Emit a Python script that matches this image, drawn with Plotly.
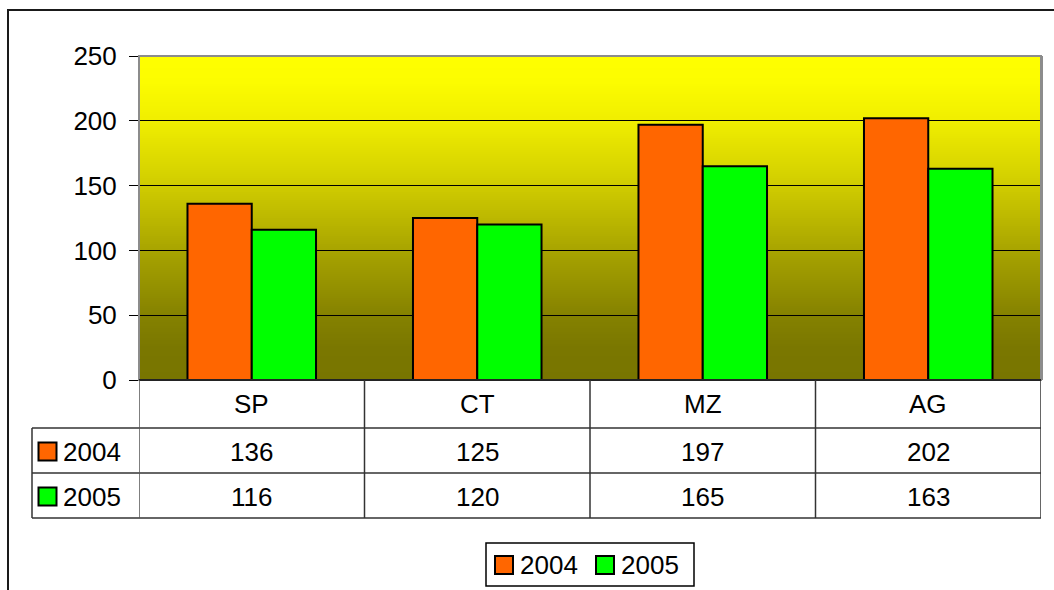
import plotly.graph_objects as go

# ---- data ----
categories = ["SP", "CT", "MZ", "AG"]
series_names = ["2004", "2005"]
values_2004 = [136, 125, 197, 202]
values_2005 = [116, 120, 165, 163]
series_colors = ["#FF6600", "#00FF00"]
y_ticks = [0, 50, 100, 150, 200, 250]

series_values = [values_2004, values_2005]

W, H = 1054, 590
L, R, T, B = 139, 1041, 56, 380  # plot area in pixels
FONT = "Liberation Sans, Arial, sans-serif"
FS = 26


def px(x):
    return (x - L) / (R - L)


def py(y):
    return (B - y) / (B - T)


x_pos = list(range(len(categories)))
x_lo, x_hi = -0.5, len(categories) - 0.5
y_lo, y_hi = y_ticks[0], y_ticks[-1]

# background gradient stops (fraction of height from bottom, rgb)
grad_stops = [(0.0, (0x78, 0x75, 0x00)), (0.1, (0x7a, 0x77, 0x00)), (0.2, (0x85, 0x82, 0x00)),
              (0.4, (0xa8, 0xa4, 0x00)), (0.6, (0xd0, 0xcc, 0x00)), (0.8, (0xf0, 0xee, 0x00)),
              (0.92, (0xfc, 0xfc, 0x00)), (1.0, (0xff, 0xff, 0x00))]


def grad_color(f):
    for (f0, c0), (f1, c1) in zip(grad_stops[:-1], grad_stops[1:]):
        if f0 <= f <= f1:
            t = (f - f0) / (f1 - f0) if f1 > f0 else 0
            return "rgb(%d,%d,%d)" % tuple(round(a + (b - a) * t) for a, b in zip(c0, c1))
    return "rgb(255,255,0)"


fig = go.Figure()
for name, vals, col in zip(series_names, series_values, series_colors):
    fig.add_trace(go.Bar(x=x_pos, y=vals, name=name,
                         marker=dict(color=col, line=dict(color="#000000", width=2)),
                         showlegend=False, hoverinfo="skip"))

shapes = []
annotations = []

# gradient stripes (below gridlines)
N = 162
for k in range(N):
    f0, f1 = k / N, (k + 1) / N
    shapes.append(dict(type="rect", xref="paper", yref="paper", x0=0, x1=1, y0=f0, y1=f1 + 0.002,
                       fillcolor=grad_color((f0 + f1) / 2), line=dict(width=0), layer="below"))

# outer chart frame
shapes.append(dict(type="rect", xref="paper", yref="paper", x0=px(8), x1=px(1070), y0=py(10), y1=py(610),
                   line=dict(color="#1a1a1a", width=2), layer="above"))
# plot-area border
shapes.append(dict(type="rect", xref="paper", yref="paper", x0=0, x1=1, y0=0, y1=1,
                   line=dict(color="#8c8c8c", width=2), layer="above"))
shapes.append(dict(type="line", xref="paper", yref="paper", x0=px(1042), x1=px(1042), y0=0, y1=1,
                   line=dict(color="#8c8c8c", width=2), layer="above"))
shapes.append(dict(type="line", xref="paper", yref="paper", x0=0, x1=1, y0=0, y1=0,
                   line=dict(color="#000000", width=1.5), layer="above"))

# data table
tline = dict(color="#333333", width=1.5)
row_tops = [380, 428, 473, 518]
for yy in row_tops[1:]:
    shapes.append(dict(type="line", xref="paper", yref="paper", x0=px(32), x1=1, y0=py(yy), y1=py(yy), line=tline))
for i in range(len(categories) + 1):
    xb = x_lo + i
    shapes.append(dict(type="line", xref="x", yref="paper", x0=xb, x1=xb, y0=py(380), y1=py(518),
                       line=dict(color="#555555" if i == 0 else "#333333", width=1.5)))
shapes.append(dict(type="line", xref="paper", yref="paper", x0=px(32), x1=px(32), y0=py(428), y1=py(518), line=tline))

for i, c in enumerate(categories):
    annotations.append(dict(x=x_pos[i], y=py(404), xref="x", yref="paper", text=c, showarrow=False,
                            font=dict(size=FS, family=FONT, color="#000000"), xanchor="center", yanchor="middle"))
for r, (name, vals, col) in enumerate(zip(series_names, series_values, series_colors)):
    yc = (row_tops[r + 1] + row_tops[r + 2]) / 2 + 1
    for i, v in enumerate(vals):
        annotations.append(dict(x=x_pos[i], y=py(yc), xref="x", yref="paper", text=str(v), showarrow=False,
                                font=dict(size=FS, family=FONT, color="#000000"), xanchor="center", yanchor="middle"))
    shapes.append(dict(type="rect", xref="paper", yref="paper", x0=px(38.5), x1=px(56.5), y0=py(yc - 9), y1=py(yc + 9),
                       fillcolor=col, line=dict(color="#000000", width=2)))
    annotations.append(dict(x=px(61), y=py(yc), xref="paper", yref="paper", text=name, showarrow=False,
                            font=dict(size=FS, family=FONT, color="#000000"), xanchor="left", yanchor="middle"))

# legend
shapes.append(dict(type="rect", xref="paper", yref="paper", x0=px(486), x1=px(694), y0=py(543), y1=py(586),
                   line=dict(color="#000000", width=1.5), fillcolor="#ffffff"))
leg_x = [495, 596]
for name, col, lx in zip(series_names, series_colors, leg_x):
    shapes.append(dict(type="rect", xref="paper", yref="paper", x0=px(lx), x1=px(lx + 18), y0=py(556), y1=py(574),
                       fillcolor=col, line=dict(color="#000000", width=2)))
    annotations.append(dict(x=px(lx + 23), y=py(565), xref="paper", yref="paper", text=name, showarrow=False,
                            font=dict(size=FS, family=FONT, color="#000000"), xanchor="left", yanchor="middle"))

fig.update_layout(
    width=W, height=H, autosize=False,
    margin=dict(l=L, r=W - R, t=T, b=H - B, pad=0),
    paper_bgcolor="#ffffff", plot_bgcolor="#ffffff",
    barmode="group", bargap=0.43, bargroupgap=0,
    font=dict(family=FONT, size=FS, color="#000000"),
    shapes=shapes, annotations=annotations,
    showlegend=False,
    xaxis=dict(range=[x_lo, x_hi], showticklabels=False, showgrid=False, zeroline=False, ticks="", fixedrange=True),
    yaxis=dict(range=[y_lo, y_hi], tickvals=y_ticks, ticks="outside", ticklen=9, tickwidth=1, tickcolor="#000000",
               showgrid=True, gridcolor="#000000", gridwidth=1, zeroline=False, showline=False,
               ticklabelstandoff=7,
               tickfont=dict(size=FS, family=FONT, color="#000000"), fixedrange=True),
)

fig.write_html("out.html", config={"displayModeBar": False},
               post_script="document.body.style.margin='0';document.body.style.overflow='hidden';")
